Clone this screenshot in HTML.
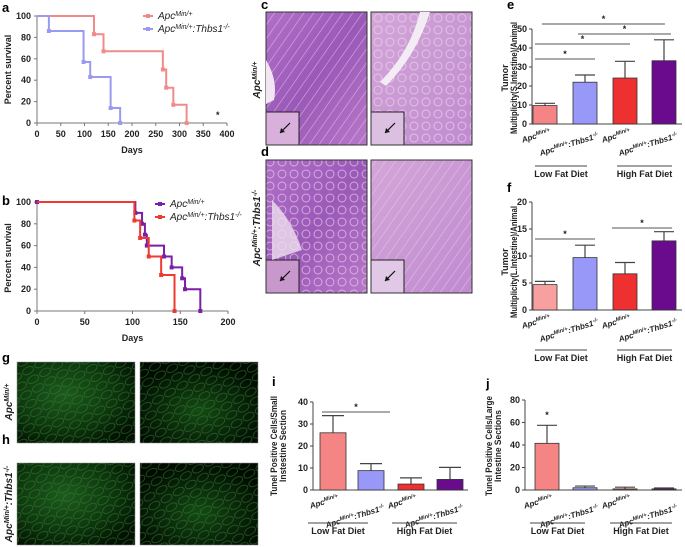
<!DOCTYPE html>
<html><head><meta charset="utf-8"><style>
html,body{margin:0;padding:0;background:#fff}
svg{display:block;font-family:"Liberation Sans",Arial,sans-serif}
.t{font-size:9px;font-weight:bold;fill:#222}
.pl{font-size:13px;font-weight:bold;fill:#000}
</style></head><body>
<svg id="fig" width="685" height="547" viewBox="0 0 685 547" xmlns="http://www.w3.org/2000/svg">
<defs>
<linearGradient id="he1" x1="0" y1="0" x2="1" y2="1"><stop offset="0" stop-color="#b070c8"/><stop offset="0.5" stop-color="#9a58b8"/><stop offset="1" stop-color="#b878c8"/></linearGradient>
<linearGradient id="he2" x1="0" y1="0" x2="1" y2="1"><stop offset="0" stop-color="#d4a6d8"/><stop offset="1" stop-color="#c08ad0"/></linearGradient>
<pattern id="stripes" width="8" height="8" patternUnits="userSpaceOnUse" patternTransform="rotate(35)"><rect width="8" height="8" fill="none"/><line x1="0" y1="0" x2="0" y2="8" stroke="#e8d0ee" stroke-width="1.2" opacity="0.7"/></pattern>
<pattern id="cells" width="12" height="12" patternUnits="userSpaceOnUse"><circle cx="6" cy="6" r="4" fill="none" stroke="#f0e0f0" stroke-width="1" opacity="0.6"/></pattern>
<pattern id="fl" width="14" height="10" patternUnits="userSpaceOnUse" patternTransform="rotate(-30)"><ellipse cx="7" cy="5" rx="6" ry="3.5" fill="none" stroke="#2f8a2f" stroke-width="0.8" opacity="0.6"/></pattern>
<radialGradient id="gr1" cx="0.4" cy="0.4" r="0.7"><stop offset="0" stop-color="#1e5a1e"/><stop offset="0.6" stop-color="#0f360f"/><stop offset="1" stop-color="#031003"/></radialGradient>
<radialGradient id="gr2" cx="0.5" cy="0.6" r="0.6"><stop offset="0" stop-color="#164a16"/><stop offset="1" stop-color="#020a02"/></radialGradient>
</defs>
<g id="root"></g>
</svg>
<script>
// ---- Panel a survival data ----
const aApcT=[0,120,140,265,272,287,315];
const aApcV=[100,83,67,50,33,17,0];
const aKoT=[0,25,98,112,155,175];
const aKoV=[100,86,57,43,14,0];
const aXTicks=[0,50,100,150,200,250,300,350,400];
const aYTicks=[0,20,40,60,80,100];
// ---- Panel b survival data ----
const bApcT=[0,103,110,113,115,133,141,152,155,171];
const bApcV=[100,90,80,70,60,50,40,30,20,0];
const bKoT=[0,102,108,117,130,144];
const bKoV=[100,83,67,50,33,0];
const bXTicks=[0,50,100,150,200];
const bYTicks=[0,20,40,60,80,100];
// ---- Bar panels ----
const eVals=[9.7,22,24.2,33.3];
const eErr=[1.2,3.8,8.8,11];
const eTicks=[0,10,20,30,40,50];
const fVals=[4.7,9.7,6.7,12.8];
const fErr=[0.6,2.3,2.1,1.7];
const fTicks=[0,5,10,15,20];
const iVals=[26,8.8,2.7,4.8];
const iErr=[7.8,3.2,2.8,5.5];
const iTicks=[0,10,20,30,40];
const jVals=[41.5,2,1,1];
const jErr=[16,1.5,1.5,0.8];
const jTicks=[0,20,40,60,80];

const NS="http://www.w3.org/2000/svg";
const root=document.getElementById('root');
function el(tag,attrs,parent){const e=document.createElementNS(NS,tag);for(const k in attrs)e.setAttribute(k,attrs[k]);(parent||root).appendChild(e);return e;}
function txt(x,y,s,cls,parent,extra){const e=el('text',Object.assign({x:x,y:y,class:cls||'t'},extra||{}),parent);e.textContent=s;return e;}
function apcLabel(parent,x,y,ko,attrs,size){
  const e=el('text',Object.assign({x:x,y:y,'font-size':size||9,'font-weight':'bold','fill':'#222'},attrs||{}),parent);
  const a=document.createElementNS(NS,'tspan');a.textContent='Apc';e.appendChild(a);
  const s=document.createElementNS(NS,'tspan');s.setAttribute('baseline-shift','super');s.setAttribute('font-size',(size||9)*0.7);s.textContent='Min/+';e.appendChild(s);
  if(ko){const b=document.createElementNS(NS,'tspan');b.setAttribute('baseline-shift','baseline');b.textContent=':Thbs1';e.appendChild(b);
    const s2=document.createElementNS(NS,'tspan');s2.setAttribute('baseline-shift','super');s2.setAttribute('font-size',(size||9)*0.7);s2.textContent='-/-';e.appendChild(s2);}
  return e;
}
[['a',2,12],['b',2,205],['c',261,9],['d',261,156],['e',507,9],['f',507,192],['g',2,362],['h',2,444],['i',272,386],['j',486,388]].forEach(p=>{
  const t=txt(p[1],p[2],p[0],'pl');
  
  
});

function survival(cfg){
  const g=el('g',{});
  
  
  const X=v=>cfg.x0+(v-cfg.xmin)/(cfg.xmax-cfg.xmin)*(cfg.x1-cfg.x0);
  const Y=v=>cfg.y0-(v/100)*(cfg.y0-cfg.y1);
  const ax=el('g',{},g);
  
  
  el('line',{x1:cfg.x0,y1:cfg.y1,x2:cfg.x0,y2:cfg.y0,stroke:'#777','stroke-width':1},ax);
  el('line',{x1:cfg.x0,y1:cfg.y0,x2:cfg.x1,y2:cfg.y0,stroke:'#777','stroke-width':1},ax);
  cfg.yt.forEach(v=>{el('line',{x1:cfg.x0-3,x2:cfg.x0,y1:Y(v),y2:Y(v),stroke:'#777'},ax);
    const t=txt(cfg.x0-6,Y(v)+3,String(v),'t',ax,{'text-anchor':'end'});
    
    });
  cfg.xt.forEach(v=>{el('line',{x1:X(v),x2:X(v),y1:cfg.y0,y2:cfg.y0+3,stroke:'#777'},ax);
    const t=txt(X(v),cfg.y0+14,String(v),'t',ax,{'text-anchor':'middle'});
    
    });
  const xt=txt((cfg.x0+cfg.x1)/2,cfg.y0+30,'Days','t',g,{'text-anchor':'middle','font-size':10});
  
  
  const yt=txt(0,0,'Percent survival','t',g,{'text-anchor':'middle','font-size':10,transform:`translate(${cfg.x0-26},${cfg.tyc||(cfg.y0+cfg.y1)/2}) rotate(-90)`});
  
  
  cfg.series.forEach(s=>{
    let d=`M${X(s.t[0])},${Y(s.v[0])}`;
    for(let i=1;i<s.t.length;i++){d+=` H${X(s.t[i])} V${Y(s.v[i])}`;}
    const p=el('path',{d:d,fill:'none',stroke:s.c,'stroke-width':s.w||2},g);
    
    
    for(let i=(s.m0?0:1);i<s.t.length;i++){
      const m=el('rect',{x:X(s.t[i])-2,y:Y(s.v[i])-2,width:4,height:4,fill:s.c},g);
      
      
    }
  });
  cfg.series.forEach((s,k)=>{
    const ly=cfg.legY+k*13;
    const lg=el('g',{},g);
    
    
    el('line',{x1:cfg.legX,x2:cfg.legX+10,y1:ly-3,y2:ly-3,stroke:s.c,'stroke-width':2},lg);
    el('rect',{x:cfg.legX+3,y:ly-5,width:4,height:4,fill:s.c},lg);
    apcLabel(lg,cfg.legX+15,ly,s.ko,{'font-style':'italic','font-weight':'normal'},10);
  });
  return g;
}
survival({name:'survival-chart-a',x0:37,x1:227,y0:123,y1:16,xmin:0,xmax:400,xt:aXTicks,yt:aYTicks,legX:143,legY:19,
  series:[{key:'apc',t:aApcT,v:aApcV,c:'#f28a8a',ko:false},{key:'apc-thbs1',t:aKoT,v:aKoV,c:'#9a9af0',ko:true}]});
const star=txt(216,118,'*','t',root,{'font-size':16,'font-weight':'normal'});


survival({name:'survival-chart-b',x0:37,x1:228,y0:311,y1:202,xmin:0,xmax:200,xt:bXTicks,yt:bYTicks,legX:155,legY:207,tyc:258,
  series:[{key:'apc',t:bApcT,v:bApcV,c:'#7a1fa6',ko:false,m0:true},{key:'apc-thbs1',t:bKoT,v:bKoV,c:'#ee3a30',ko:true}]});

function histo(name,x,y,w,h,fill,overlay,inset){
  const g=el('g',{});
  
  
  el('rect',{x:x,y:y,width:w,height:h,fill:fill},g);
  el('rect',{x:x,y:y,width:w,height:h,fill:overlay},g);
  el('rect',{x:x,y:y+h-33,width:33,height:33,fill:inset,stroke:'#222','stroke-width':1},g);
  el('line',{x1:x+24,y1:y+h-22,x2:x+14,y2:y+h-12,stroke:'#111','stroke-width':1.2},g);
  el('path',{d:`M${x+14},${y+h-12} l1,-5 l4,4 z`,fill:'#111'},g);
  el('rect',{x:x,y:y,width:w,height:h,fill:'none',stroke:'#333','stroke-width':1},g);
}
histo('histology-c-left',266,12,101,133,'url(#he1)','url(#stripes)','#d9b0dc');
histo('histology-c-right',371,12,101,133,'url(#he2)','url(#cells)','#dcc0e2');
histo('histology-d-left',266,160,101,133,'url(#he1)','url(#cells)','#c898cc');
histo('histology-d-right',371,160,101,133,'url(#he2)','url(#stripes)','#e0c8e6');
el('path',{d:'M266,60 q12,20 8,40 l-8,4 z',fill:'#f2e6f2'});
el('path',{d:'M420,12 q-10,40 -40,70 l6,4 q30,-30 44,-74 z',fill:'#f4ecf4'});
el('path',{d:'M272,200 q20,20 30,50 l-30,10 z',fill:'#eee0ee',opacity:0.8});

function side(x,y,ko,name){
  const t=apcLabel(root,0,0,ko,{'font-style':'italic','text-anchor':'middle',transform:`translate(${x},${y}) rotate(-90)`},10);
  
  
}
side(260,80,false,'row-label-c');
side(260,228,true,'row-label-d');
side(12,402,false,'row-label-g');
side(12,504,true,'row-label-h');

function fluo(name,x,y,w,h,fill){
  const g=el('g',{});
  
  
  el('rect',{x:x,y:y,width:w,height:h,fill:fill},g);
  el('rect',{x:x,y:y,width:w,height:h,fill:'url(#fl)'},g);
  el('rect',{x:x,y:y,width:w,height:h,fill:'none',stroke:'#888','stroke-width':0.5},g);
}
fluo('tunel-image-g-left',17,362,118,81,'url(#gr1)');
fluo('tunel-image-g-right',140,362,118,81,'url(#gr2)');
fluo('tunel-image-h-left',17,463,118,82,'url(#gr1)');
fluo('tunel-image-h-right',140,463,118,82,'url(#gr2)');

const barColors=['#f58585','#9898f8','#ee3030','#6a0a8c'];
function bars(cfg){
  const g=el('g',{});
  
  
  const tmax=cfg.ticks[cfg.ticks.length-1];
  const Y=v=>cfg.y0-v/tmax*(cfg.y0-cfg.y1);
  el('line',{x1:cfg.ax,x2:cfg.ax,y1:cfg.y1,y2:cfg.y0,stroke:'#444'},g);
  el('line',{x1:cfg.ax,x2:cfg.xr,y1:cfg.y0,y2:cfg.y0,stroke:'#444'},g);
  cfg.ticks.forEach(v=>{el('line',{x1:cfg.ax-3,x2:cfg.ax,y1:Y(v),y2:Y(v),stroke:'#444'},g);
    const t=txt(cfg.ax-5,Y(v)+3,String(v),'t',g,{'text-anchor':'end'});
    
    });
  cfg.vals.forEach((v,i)=>{
    const c=cfg.cx[i],w=cfg.bw;
    const top=Y(v+cfg.err[i]);
    const eb=el('path',{d:`M${c},${Y(v)} V${top} M${c-w/2+2},${top} H${c+w/2-2}`,stroke:'#444','stroke-width':1.2,fill:'none'},g);
    
    
    const r=el('rect',{x:c-w/2,y:Y(v),width:w,height:cfg.y0-Y(v),fill:(i===0&&cfg.c0)?cfg.c0:barColors[i],stroke:'#333','stroke-width':0.8},g);
    
    
    const lx=c+(i%2?14:6), lyy=cfg.y0+(i%2?cfg.l2:cfg.l1);
    const lab=apcLabel(g,lx,lyy,i%2===1,{'text-anchor':'end','font-style':'italic',transform:`rotate(-17 ${lx} ${lyy})`},8);
    
    
  });
  const ly=cfg.y0+cfg.lineOff;
  [[cfg.g1,'Low  Fat Diet'],[cfg.g2,'High Fat Diet']].forEach(gr=>{
    el('line',{x1:gr[0][0],x2:gr[0][1],y1:ly,y2:ly,stroke:'#444','stroke-width':1},g);
    const t=txt((gr[0][0]+gr[0][1])/2,ly+11,gr[1],'t',g,{'text-anchor':'middle','font-size':8.5});
    
    
  });
  cfg.sig.forEach(s=>{
    el('line',{x1:s[0],x2:s[1],y1:s[2],y2:s[2],stroke:'#555','stroke-width':1},g);
    const t=txt((s[0]+s[1])/2,s[2]-2,'*','t',g,{'text-anchor':'middle','font-weight':'normal','font-size':11});
    
    
  });
  cfg.title.forEach((line,k)=>{
    const extra={'text-anchor':'middle','font-size':7.5,transform:`translate(${cfg.tx+k*9},${cfg.tyc||(cfg.y0+cfg.y1)/2}) rotate(-90)`};
    if(cfg.tlen[k]){extra.textLength=cfg.tlen[k];extra.lengthAdjust='spacingAndGlyphs';}
    const t=txt(0,0,line,'t',g,extra);
    
    
  });
}
bars({name:'bar-chart-e',vals:eVals,err:eErr,ticks:eTicks,ax:532,xr:682,y0:124,y1:29,cx:[545,585,625,664],bw:24,l1:10,l2:14,
  lineOff:42,g1:[535,587],g2:[617,672],tx:508,tyc:78,tlen:[0,112],title:['Tumor','Multiplicity(S.Intestine)/Animal'],
  sig:[[542,665,24],[578,671,34],[535,630,44],[535,595,59]]});
bars({name:'bar-chart-f',vals:fVals,err:fErr,ticks:fTicks,ax:532,xr:682,y0:310,y1:202,cx:[545,585,625,664],bw:24,c0:'#f8a0a0',l1:10,l2:14,
  lineOff:40,g1:[535,587],g2:[617,672],tx:508,tyc:262,tlen:[0,112],title:['Tumor','Multiplicity(L.Intestine)/Animal'],
  sig:[[535,595,239],[612,672,228]]});
bars({name:'bar-chart-i',vals:iVals,err:iErr,ticks:iTicks,ax:313,xr:468,y0:490,y1:402,cx:[333,371,411,450],bw:26,l1:10,l2:20,
  lineOff:33,g1:[308,368],g2:[392,457],tx:277,tyc:446,tlen:[100,72],title:['Tunel Positive Cells/Small','Instestine Section'],
  sig:[[322,390,412]]});
bars({name:'bar-chart-j',vals:jVals,err:jErr,ticks:jTicks,ax:525,xr:682,y0:490,y1:400,cx:[547,585,625,664],bw:24,l1:10,l2:20,
  lineOff:33,g1:[530,585],g2:[610,672],tx:492,tyc:446,tlen:[100,72],title:['Tunel Positive Cells/Large','Intestine Sections'],
  sig:[]});
const js=txt(547,418,'*','t',root,{'text-anchor':'middle','font-weight':'normal','font-size':11});


</script>
</body></html>
